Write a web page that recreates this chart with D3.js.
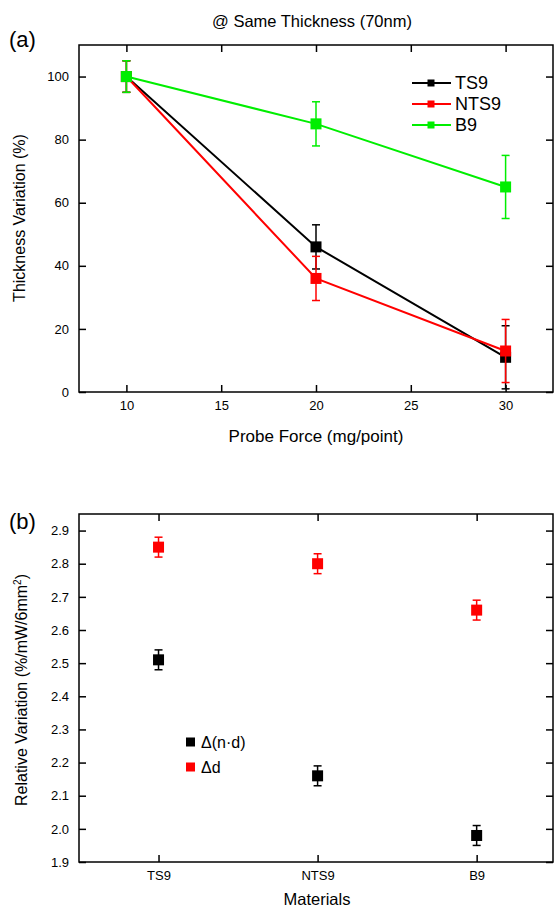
<!DOCTYPE html>
<html>
<head>
<meta charset="utf-8">
<script src="https://cdn.jsdelivr.net/npm/d3@7"></script>
<style>
  body { margin: 0; background: #fff; }
  svg { display: block; font-family: "Liberation Sans", Arial, sans-serif; }
</style>
</head>
<body>
<svg id="chart" width="554" height="908"></svg>
<script>
// panel (a) data
const forces = [10, 20, 30];
const ts9 = [100, 46, 11];
const ts9Err = [5, 7, 10];
const nts9 = [100, 36, 13];
const nts9Err = [5, 7, 10];
const b9 = [100, 85, 65];
const b9Err = [5, 7, 10];

// panel (b) data
const materials = ["TS9", "NTS9", "B9"];
const dnd = [2.51, 2.16, 1.98];
const dndErr = [0.03, 0.03, 0.03];
const dd = [2.85, 2.80, 2.66];
const ddErr = [0.03, 0.03, 0.03];

const svg = d3.select("#chart");

// frame helper: axes with inward ticks on all four sides
function frame(g, x, y, xMajor, xMinor, yMajor, yMinor, xFmt, yFmt) {
    const [x0, x1] = x.range();
    const [y0, y1] = y.range();

    const bottom = g.append("g").attr("transform", `translate(0,${y0})`);
    bottom.call(d3.axisBottom(x).tickValues(xMinor).tickSizeInner(-4).tickSizeOuter(0).tickFormat(""));
    bottom.call(d3.axisBottom(x).tickValues(xMajor).tickSizeInner(-7).tickSizeOuter(0).tickPadding(9).tickFormat(xFmt));

    const top = g.append("g").attr("transform", `translate(0,${y1})`);
    top.call(d3.axisTop(x).tickValues(xMinor).tickSizeInner(-4).tickSizeOuter(0).tickFormat(""));
    top.call(d3.axisTop(x).tickValues(xMajor).tickSizeInner(-7).tickSizeOuter(0).tickFormat(""));

    const left = g.append("g").attr("transform", `translate(${x0},0)`);
    left.call(d3.axisLeft(y).tickValues(yMinor).tickSizeInner(-4).tickSizeOuter(0).tickFormat(""));
    left.call(d3.axisLeft(y).tickValues(yMajor).tickSizeInner(-7).tickSizeOuter(0).tickPadding(10).tickFormat(yFmt));

    const right = g.append("g").attr("transform", `translate(${x1},0)`);
    right.call(d3.axisRight(y).tickValues(yMinor).tickSizeInner(-4).tickSizeOuter(0).tickFormat(""));
    right.call(d3.axisRight(y).tickValues(yMajor).tickSizeInner(-7).tickSizeOuter(0).tickFormat(""));

    g.selectAll(".domain").remove();
    g.selectAll(".tick line").attr("stroke", "#000").attr("stroke-width", 1.5);
    g.selectAll(".tick text").attr("font-size", 13).attr("fill", "#000")
        .attr("font-family", "Liberation Sans, Arial, sans-serif");

    g.append("rect")
        .attr("x", x0).attr("y", y1)
        .attr("width", x1 - x0).attr("height", y0 - y1)
        .attr("fill", "none").attr("stroke", "#000").attr("stroke-width", 1.5);
}

function errorBars(g, xs, ys, errs, x, y, color) {
    const cap = 4;
    xs.forEach((xv, i) => {
        const cx = x(xv);
        const lo = y(ys[i] - errs[i]), hi = y(ys[i] + errs[i]);
        g.append("line").attr("x1", cx).attr("x2", cx).attr("y1", lo).attr("y2", hi)
            .attr("stroke", color).attr("stroke-width", 1.5);
        [lo, hi].forEach(v => g.append("line")
            .attr("x1", cx - cap).attr("x2", cx + cap).attr("y1", v).attr("y2", v)
            .attr("stroke", color).attr("stroke-width", 1.5));
    });
}

function squares(g, xs, ys, x, y, color, size) {
    g.selectAll(null).data(xs).enter().append("rect")
        .attr("x", (d, i) => x(d) - size / 2)
        .attr("y", (d, i) => y(ys[i]) - size / 2)
        .attr("width", size).attr("height", size)
        .attr("fill", color);
}

// ---------- panel (a) ----------
const xa = d3.scaleLinear().domain([7.5, 32.5]).range([79, 553]);
const ya = d3.scaleLinear().domain([0, 110]).range([392, 45]);
const ga = svg.append("g");

frame(ga, xa, ya,
    [10, 15, 20, 25, 30], [12.5, 17.5, 22.5, 27.5],
    [0, 20, 40, 60, 80, 100], [10, 30, 50, 70, 90],
    d3.format("d"), d3.format("d"));

const seriesA = [
    { name: "TS9", vals: ts9, errs: ts9Err, color: "#000000" },
    { name: "NTS9", vals: nts9, errs: nts9Err, color: "#ff0000" },
    { name: "B9", vals: b9, errs: b9Err, color: "#00ee00" }
];

const line = d3.line().x(d => xa(d[0])).y(d => ya(d[1]));

seriesA.forEach(s => {
    errorBars(ga, forces, s.vals, s.errs, xa, ya, s.color);
    ga.append("path")
        .datum(forces.map((f, i) => [f, s.vals[i]]))
        .attr("d", line)
        .attr("fill", "none")
        .attr("stroke", s.color)
        .attr("stroke-width", 2);
    squares(ga, forces, s.vals, xa, ya, s.color, 11);
});

// legend (a)
seriesA.forEach((s, i) => {
    const ly = 83 + i * 21;
    ga.append("line").attr("x1", 412).attr("x2", 451).attr("y1", ly).attr("y2", ly)
        .attr("stroke", s.color).attr("stroke-width", 2);
    ga.append("rect").attr("x", 427.5).attr("y", ly - 3.5).attr("width", 7).attr("height", 7)
        .attr("fill", s.color);
    ga.append("text").attr("x", 455).attr("y", ly + 6)
        .attr("font-size", 18).text(s.name);
});

svg.append("text").attr("x", 312).attr("y", 27).attr("text-anchor", "middle")
    .attr("font-size", 16.5).text("@ Same Thickness (70nm)");
svg.append("text").attr("x", 9).attr("y", 47).attr("font-size", 22).text("(a)");
svg.append("text").attr("x", 316).attr("y", 442).attr("text-anchor", "middle")
    .attr("font-size", 17).text("Probe Force (mg/point)");
svg.append("text").attr("transform", "translate(25,218) rotate(-90)")
    .attr("text-anchor", "middle").attr("font-size", 16).text("Thickness Variation (%)");

// ---------- panel (b) ----------
const xb = d3.scaleLinear().domain([0.5, 3.48]).range([79, 553]);
const yb = d3.scaleLinear().domain([1.9, 2.95]).range([862, 514]);
const gb = svg.append("g");

frame(gb, xb, yb,
    [1, 2, 3], [1.5, 2.5],
    d3.range(19, 30).map(v => v / 10), d3.range(19, 29).map(v => v / 10 + 0.05),
    d => materials[d - 1], d3.format(".1f"));

const idx = [1, 2, 3];
errorBars(gb, idx, dd, ddErr, xb, yb, "#ff0000");
squares(gb, idx, dd, xb, yb, "#ff0000", 11);
errorBars(gb, idx, dnd, dndErr, xb, yb, "#000000");
squares(gb, idx, dnd, xb, yb, "#000000", 11);

// legend (b)
[{ name: "\u0394(n\u00b7d)", color: "#000000" }, { name: "\u0394d", color: "#ff0000" }].forEach((s, i) => {
    const ly = 742 + i * 25;
    gb.append("rect").attr("x", 186).attr("y", ly - 4.5).attr("width", 9).attr("height", 9)
        .attr("fill", s.color);
    gb.append("text").attr("x", 201).attr("y", ly + 6)
        .attr("font-size", 16).text(s.name);
});

svg.append("text").attr("x", 9).attr("y", 529).attr("font-size", 22).text("(b)");
svg.append("text").attr("x", 317).attr("y", 905).attr("text-anchor", "middle")
    .attr("font-size", 16.5).text("Materials");
const yl = svg.append("text").attr("transform", "translate(27,690) rotate(-90)")
    .attr("text-anchor", "middle").attr("font-size", 16);
yl.append("tspan").text("Relative Variation (%/mW/6mm");
yl.append("tspan").attr("font-size", 10).attr("dy", -6).text("2");
yl.append("tspan").attr("dy", 6).text(")");
</script>
</body>
</html>
